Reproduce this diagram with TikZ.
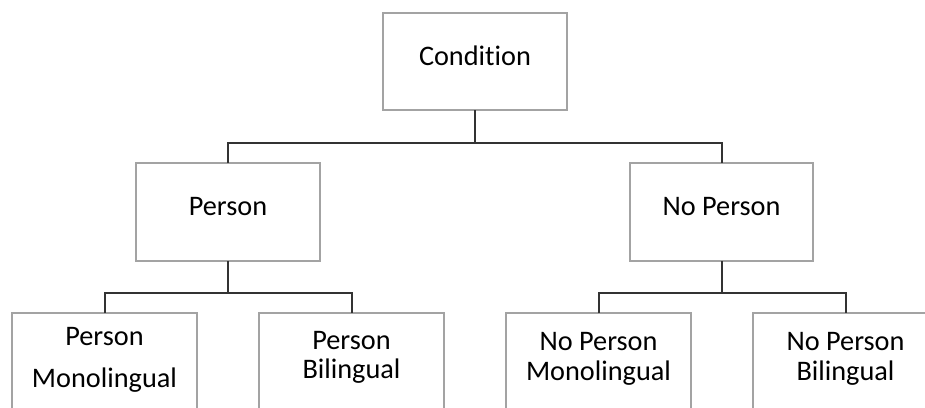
\documentclass[tikz,border=0pt]{standalone}
\usepackage{fontspec}
\setmainfont{Carlito}[RawFeature=-liga]
\definecolor{boxgray}{HTML}{A3A3A3}
\definecolor{linedark}{HTML}{333333}
\tikzset{
  box/.style={draw=boxgray, line width=1.6pt, fill=white, rectangle, inner sep=0pt, outer sep=0pt, anchor=north west},
  lbl/.style={anchor=base, inner sep=0pt, font=\fontsize{28.3}{30}\selectfont, text=black},
  conn/.style={draw=linedark, line width=2pt}
}
\begin{document}
\begin{tikzpicture}[x=1pt,y=-1pt]
\useasboundingbox (0,0) rectangle (925,407);
\clip (0,0) rectangle (925,407);
% boxes
\node[box, minimum width=184pt, minimum height=97pt] (cond) at (383,13) {};
\node[box, minimum width=184pt, minimum height=98pt] (pers) at (136,163) {};
\node[box, minimum width=183pt, minimum height=98pt] (nopers) at (630,163) {};
\node[box, minimum width=185pt, minimum height=120pt] (pm) at (12,313) {};
\node[box, minimum width=185pt, minimum height=120pt] (pb) at (259,313) {};
\node[box, minimum width=185pt, minimum height=120pt] (npm) at (506,313) {};
\node[box, minimum width=185pt, minimum height=120pt] (npb) at (753,313) {};
% junctions
\coordinate (j1) at (475,143);
\coordinate (j2) at (228,293);
\coordinate (j3) at (721.5,293);
% connectors
\draw[conn] (cond.south) -- (cond.south |- j1);
\draw[conn] (pers.north) |- (j1) -| (nopers.north);
\draw[conn] (pers.south) -- (pers.south |- j2);
\draw[conn] (pm.north) |- (j2) -| (pb.north);
\draw[conn] (nopers.south) -- (nopers.south |- j3);
\draw[conn] (npm.north) |- (j3) -| (npb.north);
% labels
\node[lbl] (tcond) at (475,65) {Condition};
\node[lbl] (tpers) at (228,215) {Person};
\node[lbl] (tnopers) at (721.5,215) {No Person};
\node[lbl] (tpm1) at (104.5,345) {Person};
\node[lbl] (tpm2) at (104.5,387) {Monolingual};
\node[lbl] (tpb1) at (351.5,349) {Person};
\node[lbl] (tpb2) at (351.5,378) {Bilingual};
\node[lbl] (tnpm1) at (598.5,350) {No Person};
\node[lbl] (tnpm2) at (598.5,380) {Monolingual};
\node[lbl] (tnpb1) at (845.5,350) {No Person};
\node[lbl] (tnpb2) at (845.5,380) {Bilingual};
\end{tikzpicture}
\end{document}
